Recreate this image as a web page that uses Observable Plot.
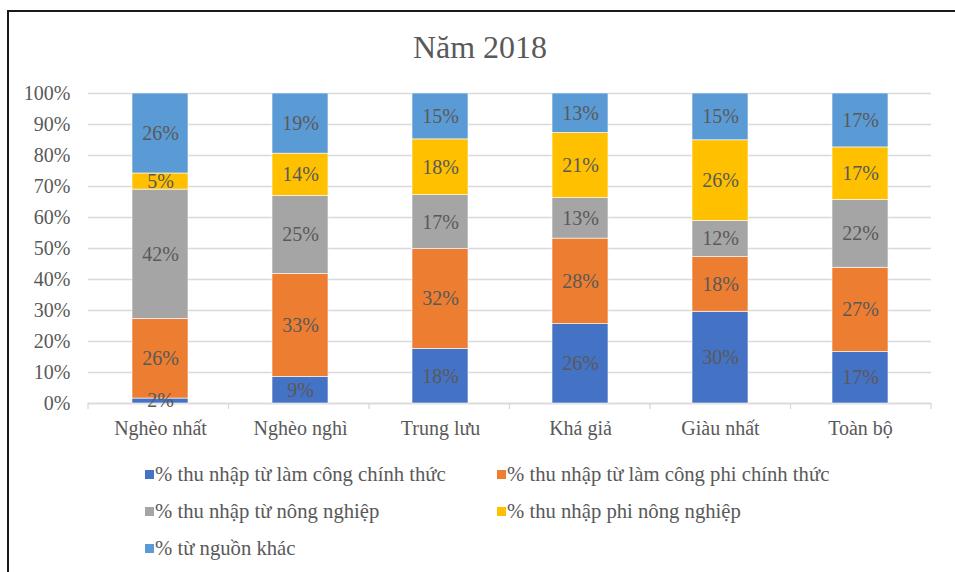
<!DOCTYPE html>
<html>
<head>
<meta charset="utf-8">
<script src="https://cdn.jsdelivr.net/npm/d3@7"></script>
<script src="https://cdn.jsdelivr.net/npm/@observablehq/plot@0.6"></script>
<style>
  html, body { margin: 0; padding: 0; background: #fff; }
  #wrap { position: relative; width: 955px; height: 572px; overflow: hidden; font-family: "Liberation Serif", "Times New Roman", serif; color: #595959; }
  #frame { position: absolute; left: 7px; top: 10px; width: 960px; height: 580px; border-top: 2px solid #1a1a1a; border-left: 2px solid #1a1a1a; box-sizing: border-box; }
  #title { position: absolute; left: 0; width: 960px; top: 27px; text-align: center; font-size: 32px; line-height: 40px; color: #595959; }
  #chart { position: absolute; left: 0; top: 0; }
  #legend { position: absolute; left: 145px; top: 459px; display: grid; grid-template-columns: 352px 352px; row-gap: 7px; font-size: 20.7px; }
  .item { display: flex; align-items: center; height: 30px; white-space: nowrap; }
  .sw { width: 9px; height: 9px; margin-right: 1px; flex: none; }
</style>
</head>
<body>
<div id="wrap">
  <div id="frame"></div>
  <div id="title">Năm 2018</div>
  <div id="chart"></div>
  <div id="legend"></div>
</div>
<script>
const categories = ["Nghèo nhất", "Nghèo nghì", "Trung lưu", "Khá giả", "Giàu nhất", "Toàn bộ"];
const seriesNames = [
  "% thu nhập từ làm công chính thức",
  "% thu nhập từ làm công phi chính thức",
  "% thu nhập từ nông nghiệp",
  "% thu nhập phi nông nghiệp",
  "% từ nguồn khác"
];
const colors = ["#4472C4", "#ED7D31", "#A5A5A5", "#FFC000", "#5B9BD5"];
const formal   = [1.6, 8.6, 17.6, 25.6, 29.6, 16.6];
const informal = [25.7, 33.2, 32.2, 27.6, 17.7, 27.2];
const agri     = [41.7, 25.2, 17.4, 13.1, 11.6, 21.9];
const nonAgri  = [5.2, 13.6, 18.0, 21.0, 26.0, 16.9];
const other    = [25.8, 19.4, 14.8, 12.7, 15.1, 17.4];
const yTicks = [0, 10, 20, 30, 40, 50, 60, 70, 80, 90, 100];

const seriesValues = [formal, informal, agri, nonAgri, other];
const rows = [];
seriesValues.forEach((vals, si) => {
  categories.forEach((c, ci) => rows.push({cat: c, series: seriesNames[si], value: vals[ci]}));
});

const textColor = "#595959";
const font = '"Liberation Serif", "Times New Roman", serif';

const plot = Plot.plot({
  width: 955,
  height: 440,
  marginTop: 93,
  marginBottom: 37,
  marginLeft: 88,
  marginRight: 24,
  style: {fontFamily: font, fontSize: "20px", color: textColor, background: "transparent", overflow: "visible"},
  x: {domain: categories, paddingInner: 0.6, paddingOuter: 0.3, label: null},
  y: {domain: [0, 100], label: null},
  color: {domain: seriesNames, range: colors},
  marks: [
    Plot.gridY(yTicks, {stroke: "#d9d9d9", strokeOpacity: 1, strokeWidth: 1.3}),
    Plot.ruleY([0], {stroke: "#d9d9d9", strokeWidth: 1.3}),
    Plot.barY(rows, {x: "cat", y: "value", fill: "series", z: "series", order: seriesNames, stroke: "#fff", strokeWidth: 0.6}),
    Plot.text(rows, Plot.stackY({x: "cat", y: "value", z: "series", order: seriesNames,
      text: d => Math.round(d.value) + "%", fill: textColor, fontSize: 20})),
    Plot.axisY(yTicks, {tickSize: 0, tickPadding: 18, tickFormat: d => d + "%", fill: textColor, fontSize: 20}),
    Plot.axisX({tickSize: 0, tickPadding: 17, fill: textColor, fontSize: 20})
  ]
});
document.getElementById("chart").appendChild(plot);

// category boundary tick marks below the baseline (Excel style), from the library scales
const xs = plot.scale("x");
const ys = plot.scale("y");
const sx = d3.scaleBand().domain(xs.domain).range(xs.range).paddingInner(xs.paddingInner ?? 0.6).paddingOuter(xs.paddingOuter ?? 0.3);
const step = sx.step();
const y0 = ys.apply(0);
const bounds = categories.map(c => sx(c) + sx.bandwidth() / 2 - step / 2);
bounds.push(sx(categories[categories.length - 1]) + sx.bandwidth() / 2 + step / 2);
d3.select(plot).append("g").selectAll("line").data(bounds).join("line")
  .attr("x1", d => d).attr("x2", d => d)
  .attr("y1", y0).attr("y2", y0 + 6)
  .attr("stroke", "#d9d9d9").attr("stroke-width", 1.3);

// legend
const legend = d3.select("#legend");
seriesNames.forEach((s, i) => {
  const it = legend.append("div").attr("class", "item");
  it.append("div").attr("class", "sw").style("background", colors[i]);
  it.append("span").text(s);
});
</script>
</body>
</html>
